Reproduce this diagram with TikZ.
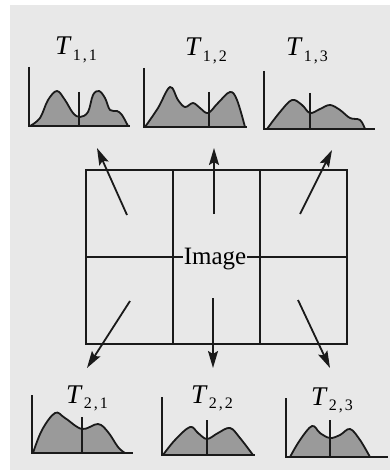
\documentclass[tikz,border=0pt]{standalone}
\usepackage{fontspec}
\setmainfont{Liberation Serif}
\usepackage{tikz}
\usetikzlibrary{arrows.meta,positioning}
\definecolor{PaperGray}{HTML}{E8E8E8}
\definecolor{HistFill}{HTML}{9A9A9A}
\definecolor{InkBlack}{HTML}{1A1A1A}
\newcommand\tlab[2]{\textit{T}\kern1pt\raisebox{-5.5pt}{\fontsize{16}{16}\selectfont #1\kern2pt,\kern2pt#2}}

\begin{document}
\begin{tikzpicture}[
  x=1pt, y=-1pt,
  grid/.style={draw=InkBlack,line width=1.8pt},
  hist/.style={draw=InkBlack,line width=1.8pt,line join=round},
  axis/.style={draw=InkBlack,line width=1.8pt},
  thresh/.style={draw=InkBlack,line width=1.6pt},
  ray/.style={-{Stealth[length=17pt,width=10pt,inset=3pt]},line width=1.8pt,InkBlack},
  tlabel/.style={font=\fontsize{27}{30}\selectfont,inner sep=0pt,anchor=base west}
]
  % paper
  \fill[white] (0,0) rectangle (390,470);
  \fill[PaperGray] (10,5) rectangle (390,470);
  \useasboundingbox (0,0) rectangle (390,470);

  % the image split into 2x3 regions
  \draw[grid] (86,170) rectangle (347,344);
  \draw[grid] (173,170) -- (173,344);
  \draw[grid] (260,170) -- (260,344);
  \draw[grid] (86,257) -- (347,257);
  \node[fill=PaperGray,inner sep=1pt,font=\fontsize{25}{30}\selectfont] (img) at (215,259) {Image};

  % histograms, top row
  \fill[HistFill] plot[smooth,tension=0.6] coordinates {(30,126) (40,118) (48,100) (57,91) (65,100) (73,113) (80,117) (88,112) (93,95) (99,91) (105,98) (110,110) (117,111) (122,115) (128,126)} -- cycle;
  \draw[hist] plot[smooth,tension=0.6] coordinates {(30,126) (40,118) (48,100) (57,91) (65,100) (73,113) (80,117) (88,112) (93,95) (99,91) (105,98) (110,110) (117,111) (122,115) (128,126)};
  \draw[axis] (29,67) -- (29,126) -- (130,126);
  \draw[thresh] (79,92) -- (79,126);

  \fill[HistFill] plot[smooth,tension=0.6] coordinates {(145,127) (158,108) (170,87) (178,100) (185,107) (193,103) (200,108) (208,113) (218,103) (230,92) (237,100) (245,127)} -- cycle;
  \draw[hist] plot[smooth,tension=0.6] coordinates {(145,127) (158,108) (170,87) (178,100) (185,107) (193,103) (200,108) (208,113) (218,103) (230,92) (237,100) (245,127)};
  \draw[axis] (144,68) -- (144,127) -- (247,127);
  \draw[thresh] (209,92) -- (209,127);

  \fill[HistFill] plot[smooth,tension=0.6] coordinates {(267,129) (280,112) (292,100) (302,105) (310,113) (320,109) (330,105) (340,110) (350,118) (360,120) (365,129)} -- cycle;
  \draw[hist] plot[smooth,tension=0.6] coordinates {(267,129) (280,112) (292,100) (302,105) (310,113) (320,109) (330,105) (340,110) (350,118) (360,120) (365,129)};
  \draw[axis] (264,71) -- (264,129) -- (375,129);
  \draw[thresh] (310,93) -- (310,129);

  % histograms, bottom row
  \fill[HistFill] plot[smooth,tension=0.6] coordinates {(33,453) (42,430) (55,413) (65,418) (82,429) (98,424) (108,432) (118,447) (125,453)} -- cycle;
  \draw[hist] plot[smooth,tension=0.6] coordinates {(33,453) (42,430) (55,413) (65,418) (82,429) (98,424) (108,432) (118,447) (125,453)};
  \draw[axis] (32,395) -- (32,453) -- (133,453);
  \draw[thresh] (82,417) -- (82,453);

  \fill[HistFill] plot[smooth,tension=0.6] coordinates {(163,455) (175,440) (190,427) (198,433) (207,439) (218,433) (230,428) (240,438) (253,455)} -- cycle;
  \draw[hist] plot[smooth,tension=0.6] coordinates {(163,455) (175,440) (190,427) (198,433) (207,439) (218,433) (230,428) (240,438) (253,455)};
  \draw[axis] (162,397) -- (162,455) -- (255,455);
  \draw[thresh] (207,420) -- (207,455);

  \fill[HistFill] plot[smooth,tension=0.6] coordinates {(290,457) (300,440) (312,426) (320,433) (330,438) (340,435) (350,429) (360,440) (370,457)} -- cycle;
  \draw[hist] plot[smooth,tension=0.6] coordinates {(290,457) (300,440) (312,426) (320,433) (330,438) (340,435) (350,429) (360,440) (370,457)};
  \draw[axis] (286,398) -- (286,457) -- (388,457);
  \draw[thresh] (330,420) -- (330,457);

  % labels
  \node[tlabel] (t11) at (55,55) {\tlab{1}{1}};
  \node[tlabel] (t12) at (185,56) {\tlab{1}{2}};
  \node[tlabel] (t13) at (286,56) {\tlab{1}{3}};
  \node[tlabel] (t21) at (66,403) {\tlab{2}{1}};
  \node[tlabel] (t22) at (191,403) {\tlab{2}{2}};
  \node[tlabel] (t23) at (311,405) {\tlab{2}{3}};

  % region centres and arrow tips
  \coordinate (r11) at (127,215);
  \coordinate (r12) at (214,214);
  \coordinate (r13) at (300,214);
  \coordinate (r21) at (130,301);
  \coordinate (r22) at (213,298);
  \coordinate (r23) at (298,300);
  \coordinate (h11) at (97,148);
  \coordinate (h12) at (214,148);
  \coordinate (h13) at (332,150);
  \coordinate (h21) at (87,368);
  \coordinate (h22) at (213,368);
  \coordinate (h23) at (330,368);

  \draw[ray] (r11) -- (h11);
  \draw[ray] (r12) -- (h12);
  \draw[ray] (r13) -- (h13);
  \draw[ray] (r21) -- (h21);
  \draw[ray] (r22) -- (h22);
  \draw[ray] (r23) -- (h23);
\end{tikzpicture}
\end{document}
